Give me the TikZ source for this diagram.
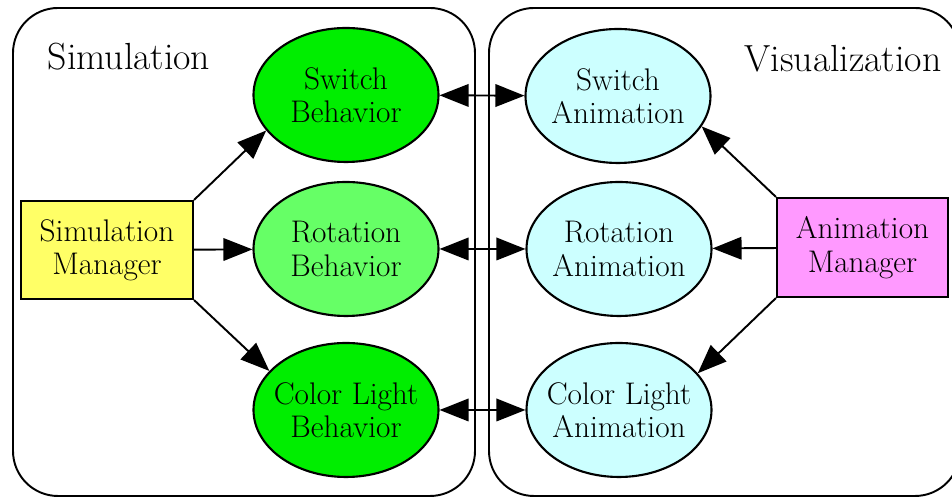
\documentclass[tikz,border=0pt]{standalone}
\usepackage{tikz}
\usetikzlibrary{arrows.meta, shapes.geometric, calc}

\definecolor{behgreen}{HTML}{00EE00}
\definecolor{rotgreen}{HTML}{66FF66}
\definecolor{animcyan}{HTML}{CCFFFF}
\definecolor{simyellow}{HTML}{FFFF66}
\definecolor{animpink}{HTML}{FF99FF}

\begin{document}
\begin{tikzpicture}[
		>={Triangle[length=0.58cm,width=0.45cm]},
		every node/.style={font=\fontsize{17.8}{19}\selectfont, align=center},
		title/.style={font=\fontsize{21.5}{24}\selectfont},
		blob/.style={ellipse, draw, line width=1.2pt, minimum width=3.7cm, minimum height=2.68cm, inner sep=-0.25cm},
		manager/.style={rectangle, draw, line width=1.2pt, minimum width=3.44cm, minimum height=1.96cm},
		panel/.style={draw, line width=1.1pt, rounded corners=0.9cm},
		link/.style={line width=1.1pt}
	]
								\useasboundingbox (0,0) rectangle (19.04,9.94);

								% the two sides
								\draw[panel] (0.26,0.02) rectangle (9.50,9.78);
								\draw[panel] (9.78,0.02) rectangle (19.20,9.78);
								\node[title] (simtitle) at (2.58,8.80) {Simulation};
								\node[title] (vistitle) at (16.86,8.76) {Visualization};

								% simulation side
								\node[blob, fill=behgreen] (swbeh) at (6.92,8.04) {Switch\\Behavior};
								\node[blob, fill=rotgreen] (rotbeh) at (6.92,4.96) {Rotation\\Behavior};
								\node[blob, fill=behgreen] (colbeh) at (6.92,1.74) {Color Light\\Behavior};
								\node[manager, fill=simyellow] (simmgr) at (2.14,4.94) {Simulation\\Manager};

								% visualization side
								\node[blob, fill=animcyan] (swanim) at (12.36,8.02) {Switch\\Animation};
								\node[blob, fill=animcyan] (rotanim) at (12.38,4.96) {Rotation\\Animation};
								\node[blob, fill=animcyan] (colanim) at (12.38,1.74) {Color Light\\Animation};
								\node[manager, fill=animpink, minimum width=3.42cm, minimum height=1.98cm] (animmgr) at (17.25,4.99) {Animation\\Manager};

								% manager arrows
								\draw[link,->] (simmgr.north east) -- (swbeh.204);
								\draw[link,->] (simmgr) -- (rotbeh);
								\draw[link,->] (simmgr.south east) -- (colbeh.153);

								\draw[link,->] (animmgr.north west) -- (swanim.340);
								\draw[link,->] (animmgr) -- (rotanim);
								\draw[link,->] (animmgr.south west) -- (colanim.25);

								% behavior <-> animation
								\draw[link,<->] (swbeh) -- (swanim);
								\draw[link,<->] (rotbeh) -- (rotanim);
								\draw[link,<->] (colbeh) -- (colanim);
\end{tikzpicture}
\end{document}
